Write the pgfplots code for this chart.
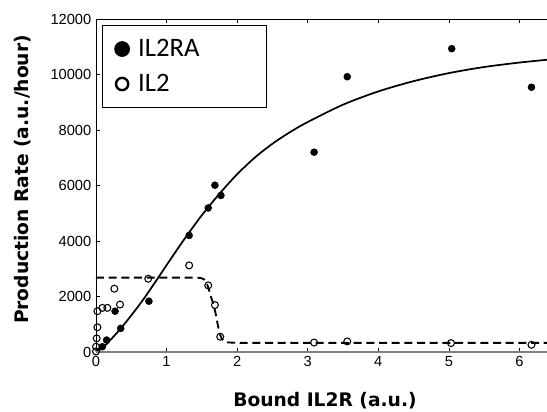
\documentclass[border=0pt]{standalone}
\usepackage{fontspec}
\setmainfont{Liberation Sans}
\newfontfamily\labelfont{DejaVu Sans}
\newfontfamily\legendfont{Carlito}
\usepackage{pgfplots}
\pgfplotsset{compat=1.18}

\begin{document}
\begin{tikzpicture}
\begin{axis}[
    scale only axis,
    width=338.25pt, height=249.75pt,
    xmin=0, xmax=6.39, ymin=0, ymax=12000,
    xtick={0,1,2,3,4,5,6},
    ytick={0,2000,4000,6000,8000,10000,12000},
    xtick pos=both, ytick pos=left,
    tick align=inside,
    major tick length=3pt,
    tick style={black, line width=0.5pt},
    scaled y ticks=false,
    /pgf/number format/assume math mode=true,
    /pgf/number format/1000 sep={},
    ticklabel style={font=\fontsize{11}{13}\selectfont},
    axis line style={draw=none},
    clip=false,
    xlabel={Bound IL2R (a.u.)},
    ylabel={Production Rate (a.u./hour)},
    every axis x label/.style={at={(rel axis cs:0.5,0)}, anchor=base, yshift=-41.25pt, xshift=2.6pt,
        font=\labelfont\bfseries\fontsize{14}{16}\selectfont},
    every axis y label/.style={at={(rel axis cs:0,0.5)}, anchor=center, rotate=90, xshift=4.5pt, yshift=54.75pt,
        font=\labelfont\bfseries\fontsize{14}{16}\selectfont},
    legend style={at={(rel axis cs:0,1)}, anchor=north west, xshift=4.3pt, yshift=-4.5pt,
        draw=black, line width=0.6pt, inner xsep=6pt, inner ysep=9.5pt, row sep=9.75pt,
        nodes={inner sep=1pt},
        font=\legendfont\fontsize{20}{24}\selectfont},
    legend cell align=left,
    legend image code/.code={\path[draw=none, fill=none] (0pt,0pt) -- (20pt,0pt);
        \draw[#1] plot coordinates {(9pt,0pt)};},
]
% fitted curves
\addplot[black, line width=1.3pt, smooth, forget plot] coordinates {
    (0,0) (0.1,160) (0.2,420) (0.3,700) (0.4,1000) (0.5,1320) (0.6,1650) (0.7,2000)
    (0.8,2370) (0.9,2750) (1.0,3130) (1.25,4060) (1.5,4930) (1.75,5705) (2.0,6405)
    (2.25,7005) (2.5,7505) (2.75,7925) (3.0,8287) (3.5,8912) (4.0,9390) (4.5,9760)
    (5.0,10050) (5.5,10270) (6.0,10430) (6.39,10530)};
\addplot[black, line width=1.4pt, dash pattern=on 6pt off 3.5pt, forget plot] coordinates {
    (0,2680) (1.40,2680) (1.48,2670) (1.53,2620) (1.57,2480) (1.60,2250) (1.63,1980)
    (1.66,1750) (1.69,1450) (1.72,1050) (1.75,680) (1.78,480) (1.82,380) (1.87,345)
    (1.95,335) (2.05,330) (6.39,330)};
% IL2RA
\addplot[only marks, mark=*, mark size=2.6pt, black,
    legend image post style={mark size=5.6pt}] coordinates {
    (0.09,190) (0.15,430) (0.27,1470) (0.35,850) (0.75,1830) (1.32,4200)
    (1.59,5190) (1.685,6010) (1.77,5640) (3.09,7200) (3.56,9920) (5.04,10930) (6.17,9540)};
\addlegendentry{\makebox[89pt][l]{IL2RA}}
% IL2
\addplot[only marks, mark=o, mark size=2.6pt, black, line width=0.8pt,
    legend image post style={mark size=4.6pt, line width=1.8pt}] coordinates {
    (0,20) (0,190) (0.01,490) (0.02,890) (0.02,1470) (0.09,1590) (0.16,1590)
    (0.26,2280) (0.34,1710) (0.74,2640) (1.32,3120) (1.59,2400) (1.685,1690)
    (1.76,550) (3.09,340) (3.56,380) (5.03,320) (6.17,260)};
\addlegendentry{\makebox[89pt][l]{IL2}}
% axis lines
\draw[black, line width=0.7pt] (rel axis cs:0,0) -- (rel axis cs:0,1) -- (rel axis cs:1,1);
\draw[gray, line width=1.5pt] (rel axis cs:0,0) -- (rel axis cs:1,0);
\coordinate (bl) at (rel axis cs:0,0);
\coordinate (tr) at (rel axis cs:1,1);
\end{axis}
\pgfresetboundingbox
\path ([shift={(-72pt,-45pt)}]bl) rectangle ([shift={(0pt,14.25pt)}]tr);
\end{tikzpicture}
\end{document}
